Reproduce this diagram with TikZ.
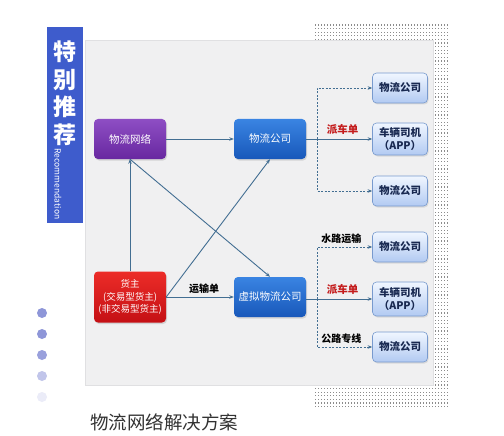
\documentclass[tikz,border=0pt]{standalone}
\usepackage{fontspec}
\setmainfont{Noto Sans CJK SC}
\usetikzlibrary{arrows.meta, positioning, patterns, shadows}
\pgfdeclarepatternformonly{griddots}{\pgfqpoint{0pt}{0pt}}{\pgfqpoint{1.1pt}{1.1pt}}{\pgfqpoint{3pt}{3.6pt}}{%
  \pgfpathrectangle{\pgfqpoint{0pt}{0pt}}{\pgfqpoint{1.1pt}{1.1pt}}\pgfusepath{fill}}
\definecolor{bannerblue}{RGB}{62,92,204}
\definecolor{panelgray}{RGB}{240,240,241}
\definecolor{panelline}{RGB}{224,224,226}
\definecolor{linkblue}{RGB}{66,110,146}
\definecolor{purpletop}{RGB}{142,78,196}
\definecolor{purplebot}{RGB}{104,40,160}
\definecolor{bluetop}{RGB}{58,132,226}
\definecolor{bluebot}{RGB}{24,88,186}
\definecolor{redtop}{RGB}{236,44,40}
\definecolor{redbot}{RGB}{196,16,20}
\definecolor{sidetop}{RGB}{240,246,255}
\definecolor{sidebot}{RGB}{178,202,242}
\definecolor{sideline}{RGB}{120,154,206}
\definecolor{sidetext}{RGB}{24,40,80}
\definecolor{labelred}{RGB}{196,28,28}
\definecolor{dotblue}{RGB}{142,150,216}
\tikzset{
  mainbox/.style={rectangle, rounded corners=4pt, minimum width=72pt,
    minimum height=40pt, inner sep=1pt, align=center, text=white,
    font=\fontsize{10.5}{13}\selectfont,
    drop shadow={opacity=0.25, shadow xshift=1pt, shadow yshift=-1.5pt}},
  purplebox/.style={mainbox, top color=purpletop, bottom color=purplebot},
  bluebox/.style={mainbox, top color=bluetop, bottom color=bluebot},
  redbox/.style={mainbox, top color=redtop, bottom color=redbot,
    minimum height=51pt, font=\fontsize{9.5}{12.5}\selectfont},
  sidebox/.style={rectangle, rounded corners=4pt, minimum width=55pt,
    minimum height=30pt, inner sep=1pt, align=center, text=sidetext,
    top color=sidetop, bottom color=sidebot, draw=sideline, line width=0.6pt,
    font=\bfseries\fontsize{10.5}{13}\selectfont,
    drop shadow={opacity=0.2, shadow xshift=1pt, shadow yshift=-1.5pt}},
  arrow/.style={-{Stealth[length=4.5pt, width=3.5pt]}, line width=0.9pt, color=linkblue},
  dasharrow/.style={arrow, dash pattern=on 2pt off 1.5pt},
  linklabel/.style={font=\bfseries\fontsize{10}{12}\selectfont, text=black, inner sep=1pt},
  redlabel/.style={linklabel, text=labelred, font=\bfseries\fontsize{10.5}{12}\selectfont}
}
\begin{document}
\begin{tikzpicture}[x=1pt, y=-1pt]
  \useasboundingbox[fill=white] (0,0) rectangle (504,436);
  % dotted backdrop and panel
  \fill[pattern=griddots, pattern color=black!45] (315,25) rectangle (448,407);
  \fill[panelgray] (85,40) rectangle (433,385);
  \draw[panelline, line width=0.8pt] (85,40) rectangle (433,385);
  % banner
  \fill[bannerblue] (47,27) rectangle (83,223);
  \node[text=white, align=center, font=\bfseries\fontsize{23}{27.5}\selectfont] (bannertitle) at (65,93) {特\\别\\推\\荐};
  \node[text=white, rotate=-90, font=\fontsize{8.5}{10}\selectfont, inner sep=0pt] (bannersub) at (58,184) {Recommendation};
  % page dots
  \foreach \y/\c in {313/dotblue, 334/dotblue, 355/dotblue!90, 376/dotblue!55, 397/dotblue!18}
    \fill[\c] (42,\y) circle (5pt);
  \node[anchor=west, text=black!80, font=\fontsize{18.5}{22}\selectfont, inner sep=0pt] (title) at (90,422) {物流网络解决方案};
  % main nodes
  \node[purplebox] (wlnet) at (130,139) {物流网络};
  \node[bluebox] (wlgs) at (270,139) {物流公司};
  \node[redbox] (huozhu) at (130,297) {货主\\(交易型货主)\\(非交易型货主)};
  \node[bluebox] (xuni) at (270,297) {虚拟物流公司};
  % right nodes
  \node[sidebox] (ra) at (400,88) {物流公司};
  \node[sidebox, minimum height=32pt] (rb) at (400,139) {车辆司机\\（APP）};
  \node[sidebox] (rc) at (400,191) {物流公司};
  \node[sidebox] (sa) at (400,247) {物流公司};
  \node[sidebox, minimum height=34pt] (sb) at (400,299) {车辆司机\\（APP）};
  \node[sidebox] (sc) at (400,347) {物流公司};
  \coordinate (jtop) at (317,139);
  \coordinate (jbot) at (317,299);
  % links
  \draw[arrow] (wlnet) -- (wlgs);
  \draw[arrow] (huozhu) -- node[linklabel, above=2pt, pos=0.56] {运输单} (xuni);
  \draw[arrow] (huozhu.north) -- (wlnet.south);
  \draw[arrow] (wlnet.south) -- (xuni.north);
  \draw[arrow] (huozhu.east) -- (wlgs.south);
  \draw[arrow] (wlgs.east) -- node[redlabel, above=3pt, pos=0.55] {派车单} (rb.west);
  \draw[dasharrow] (jtop) |- (ra.west);
  \draw[dasharrow] (jtop) |- (rc.west);
  \draw[arrow] (xuni.east |- sb.west) -- node[redlabel, above=3pt, pos=0.55] {派车单} (sb.west);
  \draw[dasharrow] (jbot) |- node[linklabel, above=2pt, pos=0.72] {水路运输} (sa.west);
  \draw[dasharrow] (jbot) |- node[linklabel, above=2pt, pos=0.72] {公路专线} (sc.west);
\end{tikzpicture}
\end{document}
